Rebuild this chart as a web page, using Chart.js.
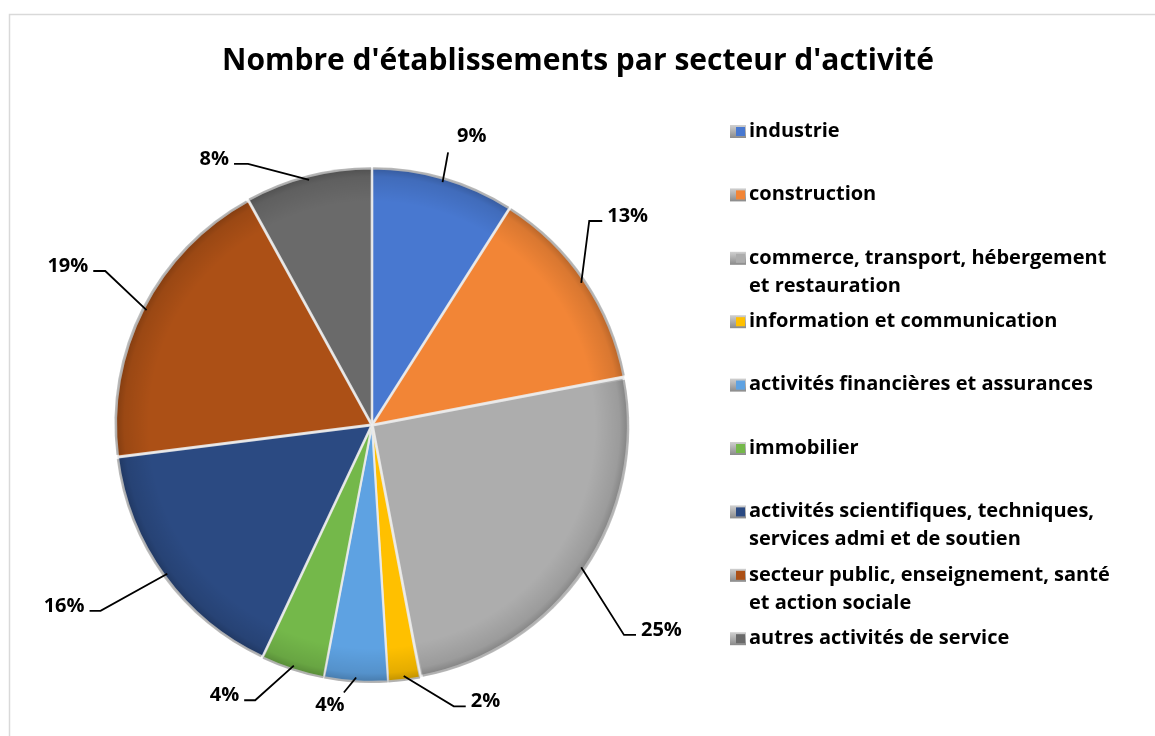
<!DOCTYPE html>
<html>
<head>
<meta charset="utf-8">
<script src="https://cdn.jsdelivr.net/npm/chart.js@4.4.1/dist/chart.umd.min.js"></script>
<style>
  html, body { margin: 0; padding: 0; background: #fff; }
  canvas { display: block; }
</style>
</head>
<body>
<canvas id="pie" width="1155" height="736"></canvas>
<script>
const title = "Nombre d'établissements par secteur d'activité";

const sectors = [
  'industrie',
  'construction',
  'commerce, transport, hébergement et restauration',
  'information et communication',
  'activités financières et assurances',
  'immobilier',
  'activités scientifiques, techniques, services admi et de soutien',
  'secteur public, enseignement, santé et action sociale',
  'autres activités de service',
];

// legend text, already broken where it wraps
const legendLines = [
  ['industrie'],
  ['construction'],
  ['commerce, transport, hébergement', 'et restauration'],
  ['information et communication'],
  ['activités financières et assurances'],
  ['immobilier'],
  ['activités scientifiques, techniques,', 'services admi et de soutien'],
  ['secteur public, enseignement, santé', 'et action sociale'],
  ['autres activités de service'],
];

const shares = [9, 13, 25, 2, 4, 4, 16, 19, 8];

const colors = [
  '#4878d0', '#f28536', '#adadad', '#ffc000', '#5ea2e2',
  '#74b84a', '#2b4a82', '#ac5016', '#6a6a6a',
];

// leader line per slice: angle shift (deg), length past the rim, elbow length, text nudge
const leaders = [
  { da: -0.6, ext: 28, h: 0, dx: 4, dy: -11 },
  { da: -9, ext: 43, h: 13, dx: 0, dy: 0 },
  { da: 5.6, ext: 73, h: 12, dx: 0, dy: 0 },
  { da: -9, ext: 38, h: 12, dx: 0, dy: 0 },
  { da: 2.4, ext: 14, h: 0, dx: -14, dy: 0, below: true },
  { da: 5, ext: 44, h: 11, dx: 0, dy: 0 },
  { da: 1.6, ext: 74, h: 11, dx: 0, dy: 0 },
  { da: 3, ext: 53, h: 12, dx: 0, dy: 0 },
  { da: -11, ext: 34, h: 14, dx: 0, dy: 0 },
];

const FONT = '"Open Sans", Lato, sans-serif';

const frame = {
  id: 'frame',
  beforeDraw(chart) {
    const ctx = chart.ctx;
    ctx.save();
    ctx.fillStyle = '#fff';
    ctx.fillRect(0, 0, chart.width, chart.height);
    ctx.strokeStyle = '#d9d9d9';
    ctx.lineWidth = 1.5;
    ctx.strokeRect(9.5, 14.5, chart.width + 20, chart.height + 20);

    ctx.fillStyle = '#000';
    ctx.font = 'bold 30px ' + FONT;
    ctx.textAlign = 'center';
    ctx.textBaseline = 'alphabetic';
    ctx.fillText(title, 578, 70);
    ctx.restore();
  },
};

// darker rim on each slice to give the bevelled look
const bevel = {
  id: 'bevel',
  afterDatasetsDraw(chart) {
    const ctx = chart.ctx;
    chart.getDatasetMeta(0).data.forEach((arc) => {
      const { x, y, startAngle, endAngle, outerRadius } = arc.getProps(['x', 'y', 'startAngle', 'endAngle', 'outerRadius'], true);
      const mid = (startAngle + endAngle) / 2;
      const off = arc.options.offset || 0;
      const cx = x + Math.cos(mid) * off;
      const cy = y + Math.sin(mid) * off;
      ctx.save();
      ctx.beginPath();
      ctx.moveTo(cx, cy);
      ctx.arc(cx, cy, outerRadius - 1, startAngle, endAngle);
      ctx.closePath();
      ctx.clip();
      const g = ctx.createRadialGradient(cx, cy, outerRadius * 0.86, cx, cy, outerRadius);
      g.addColorStop(0, 'rgba(0,0,0,0)');
      g.addColorStop(0.7, 'rgba(0,0,0,0.10)');
      g.addColorStop(1, 'rgba(0,0,0,0.28)');
      ctx.fillStyle = g;
      ctx.fillRect(cx - outerRadius, cy - outerRadius, outerRadius * 2, outerRadius * 2);
      ctx.restore();
    });
  },
};

const outsideLabels = {
  id: 'outsideLabels',
  afterDraw(chart) {
    const ctx = chart.ctx;
    const data = chart.data.datasets[0].data;
    const total = data.reduce((a, b) => a + b, 0);
    ctx.save();
    ctx.strokeStyle = '#000';
    ctx.lineWidth = 1.8;
    ctx.fillStyle = '#000';
    ctx.font = 'bold 20px ' + FONT;
    chart.getDatasetMeta(0).data.forEach((arc, i) => {
      const { x, y, startAngle, endAngle, outerRadius } = arc.getProps(['x', 'y', 'startAngle', 'endAngle', 'outerRadius'], true);
      const L = leaders[i];
      const mid = (startAngle + endAngle) / 2;
      const a = mid + (L.da * Math.PI) / 180;
      const x0 = x + Math.cos(mid) * (outerRadius - 2);
      const y0 = y + Math.sin(mid) * (outerRadius - 2);
      const x1 = x + Math.cos(a) * (outerRadius + L.ext);
      const y1 = y + Math.sin(a) * (outerRadius + L.ext);
      const side = x1 >= x ? 1 : -1;
      const x2 = x1 + side * L.h;

      ctx.beginPath();
      ctx.moveTo(x0, y0);
      ctx.lineTo(x1, y1);
      ctx.lineTo(x2, y1);
      ctx.stroke();

      const txt = Math.round((data[i] / total) * 100) + '%';
      if (L.below) {
        ctx.textAlign = 'center';
        ctx.textBaseline = 'top';
        ctx.fillText(txt, x2 + L.dx, y1 + 3 + L.dy);
      } else {
        ctx.textAlign = side > 0 ? 'left' : 'right';
        ctx.textBaseline = 'middle';
        ctx.fillText(txt, x2 + side * 5 + L.dx, y1 - 5 + L.dy);
      }
    });
    ctx.restore();
  },
};

const sideLegend = {
  id: 'sideLegend',
  afterDraw(chart) {
    const ctx = chart.ctx;
    const left = 730;
    const top = 131;
    const step = 63.4;
    ctx.save();
    ctx.font = 'bold 20px ' + FONT;
    ctx.fillStyle = '#000';
    ctx.textBaseline = 'middle';
    ctx.textAlign = 'left';
    legendLines.forEach((lines, i) => {
      const cy = top + i * step;
      const g = ctx.createLinearGradient(left, cy - 6, left, cy + 7);
      g.addColorStop(0, '#d0d0d0');
      g.addColorStop(1, '#8a8a8a');
      ctx.fillStyle = g;
      ctx.fillRect(left, cy - 6, 16, 13);
      ctx.fillStyle = chart.data.datasets[0].backgroundColor[i];
      ctx.fillRect(left + 6, cy - 4, 9, 9);
      ctx.fillStyle = '#000';
      lines.forEach((line, j) => ctx.fillText(line, left + 19, cy + j * 28));
    });
    ctx.restore();
  },
};

new Chart(document.getElementById('pie'), {
  type: 'pie',
  data: {
    labels: sectors,
    datasets: [{
      data: shares,
      backgroundColor: colors,
      borderColor: 'rgba(235,235,235,0.9)',
      borderWidth: 2,
      offset: 4,
    }],
  },
  options: {
    responsive: false,
    animation: false,
    radius: 255,
    layout: { padding: { left: 113, right: 524, top: 166, bottom: 52 } },
    plugins: {
      legend: { display: false },
      title: { display: false },
      tooltip: { enabled: false },
    },
  },
  plugins: [frame, bevel, outsideLabels, sideLegend],
});
</script>
</body>
</html>
